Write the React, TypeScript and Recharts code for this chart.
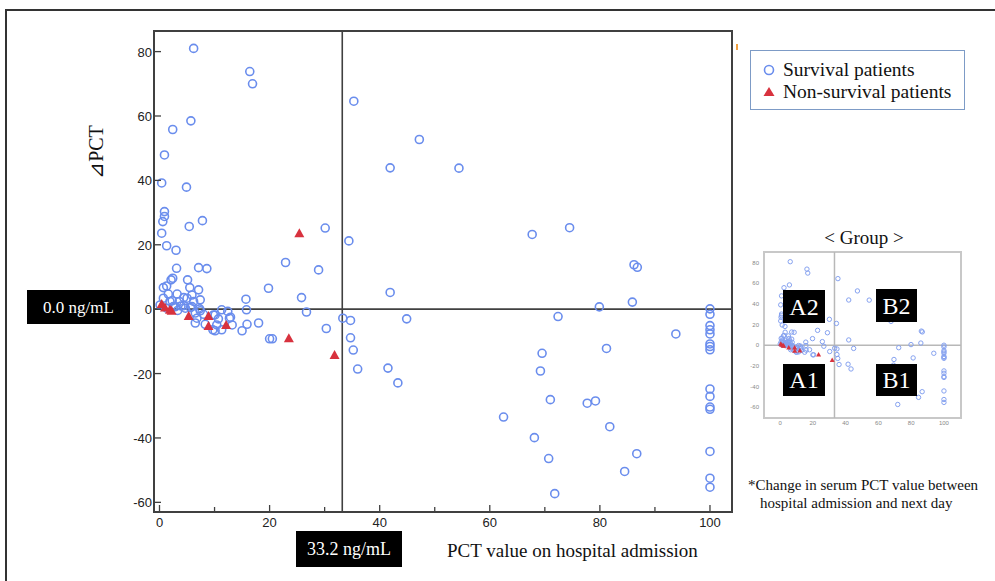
import React from 'react';
import { ScatterChart, Scatter, XAxis, YAxis, ReferenceLine, ReferenceArea } from 'recharts';

// [PCT on admission, delta PCT]
const survivalPoints: [number, number][] = [
  [6.2, 81], [16.4, 73.8], [16.9, 70], [35.3, 64.6], [5.7, 58.5], [2.4, 55.8], [0.9, 47.9],
  [0.4, 39.2], [4.9, 37.9], [0.9, 30.3], [0.9, 28.8], [0.6, 27.2], [0.4, 23.6], [1.3, 19.7],
  [3.0, 18.3], [5.4, 25.7], [7.8, 27.5], [3.1, 12.7], [7.1, 12.9], [8.6, 12.6], [2.4, 9.6],
  [2.1, 9.1], [5.1, 9.1], [0.7, 6.7], [1.3, 7.2], [5.5, 6.7], [7.1, 6.0], [1.6, 4.7],
  [3.2, 4.7], [5.9, 4.4], [4.4, 3.6], [0.7, 3.4], [2.3, 2.6], [3.6, 2.4], [6.2, 2.4],
  [7.4, 2.9], [5.0, 3.4], [0.1, 1.3], [2.9, 0.8], [4.4, 1.1], [5.6, 0.5], [7.3, 0.1],
  [1.3, 0.3], [3.3, -0.4], [6.5, -1.2], [7.4, -0.5], [11.3, -0.2], [12.4, -0.7], [15.8, -0.2],
  [8.0, -1.6], [10.1, -1.8], [6.8, -2.8], [10.7, -3.0], [12.7, -2.8], [6.5, -4.3], [8.3, -4.7],
  [10.4, -4.9], [13.2, -4.9], [15.9, -4.7], [18.0, -4.3], [11.3, -6.4], [10.1, -6.7], [15.0, -6.7],
  [9.7, -6.4], [15.7, 3.1], [2.5, 0.8], [1.9, 2.4], [3.9, 1.0], [4.7, 0.3], [5.9, 0.8],
  [9.8, -1.8], [12.9, -2.5], [19.8, 6.5], [20.0, -9.2], [20.5, -9.2], [22.9, 14.5], [25.8, 3.6],
  [26.7, -0.9], [28.9, 12.2], [30.1, 25.2], [30.3, -6.0], [34.4, 21.2], [33.3, -2.8], [34.7, -3.5],
  [34.7, -8.9], [35.2, -12.7], [36.0, -18.6], [41.9, 5.2], [44.9, -3.0], [41.5, -18.3], [43.3, -22.9],
  [47.2, 52.7], [41.9, 43.9], [54.4, 43.8], [67.7, 23.2], [74.5, 25.3], [86.2, 13.8], [86.8, 13.0],
  [85.9, 2.2], [79.9, 0.7], [72.4, -2.3], [69.5, -13.7], [69.2, -19.2], [71.0, -28.1], [62.5, -33.5],
  [68.1, -39.9], [70.7, -46.4], [71.8, -57.3], [93.8, -7.7], [81.2, -12.2], [77.7, -29.2], [79.2, -28.5],
  [81.8, -36.5], [86.7, -44.9], [84.5, -50.4],
  [100, 0.1], [100, -1.6], [100, -5.1], [100, -6.4], [100, -7.7], [100, -10.8], [100, -11.6],
  [100, -12.6], [100, -24.8], [100, -27.1], [100, -30.4], [100, -31.1], [100, -44.2], [100, -52.5],
  [100, -55.3],
];

const nonSurvivalPoints: [number, number][] = [
  [0.4, 1.6], [1.0, 0.5], [1.9, -0.2], [2.2, -0.5], [5.3, -2.1], [8.9, -2.1], [8.9, -5.2],
  [12.1, -4.9], [25.4, 23.6], [23.5, -9.0], [31.8, -14.2],
];

const xTicks = [0, 10, 20, 30, 40, 50, 60, 70, 80, 90, 100];
const yTicks = [-60, -40, -20, 0, 20, 40, 60, 80];
const insetXTicks = [0, 20, 40, 60, 80, 100];
const pctCutoff = 33.2;
const deltaCutoff = 0;

const survivalData = survivalPoints.map(([x, y]) => ({ x, y }));
const nonSurvivalData = nonSurvivalPoints.map(([x, y]) => ({ x, y }));

const BLUE = '#6a8ded';
const RED = '#d8323e';
const AXIS = '#404040';

const Ring = (p: any) => <circle cx={p.cx} cy={p.cy} r={4} fill="none" stroke={BLUE} strokeWidth={1.6} />;
const Tri = (p: any) => (
  <polygon points={`${p.cx},${p.cy - 5} ${p.cx - 5},${p.cy + 4} ${p.cx + 5},${p.cy + 4}`} fill={RED} />
);
const SmallRing = (p: any) => <circle cx={p.cx} cy={p.cy} r={2.2} fill="none" stroke="#86a2f0" strokeWidth={1} />;
const SmallTri = (p: any) => (
  <polygon points={`${p.cx},${p.cy - 2.5} ${p.cx - 2.5},${p.cy + 2} ${p.cx + 2.5},${p.cy + 2}`} fill={RED} />
);

const XTick = (props: any) => {
  const { x, y, payload } = props;
  const v = payload.value;
  const major = v % 20 === 0;
  const base = y - 4;
  return (
    <g>
      <line x1={x} x2={x} y1={base} y2={base - (major ? 7 : 5)} stroke={AXIS} strokeWidth={1.3} />
      {major && (
        <text x={x} y={y + 11} textAnchor="middle" fontSize={13} fill="#222" fontFamily="Liberation Sans, Arial, sans-serif">
          {v}
        </text>
      )}
    </g>
  );
};

const YTick = (props: any) => {
  const { x, y, payload } = props;
  const axisX = x + 2;
  return (
    <g>
      <line x1={axisX} x2={axisX + 7} y1={y} y2={y} stroke={AXIS} strokeWidth={1.3} />
      <text x={x} y={y + 5} textAnchor="end" fontSize={13} fill="#222" fontFamily="Liberation Sans, Arial, sans-serif">
        {payload.value}
      </text>
    </g>
  );
};

const SmallYTick = (props: any) => {
  const { x, y, payload } = props;
  return (
    <text x={x} y={y + 2} textAnchor="end" fontSize={6} fill="#888" fontFamily="Liberation Sans, Arial, sans-serif">
      {payload.value}
    </text>
  );
};

const SmallXTick = (props: any) => {
  const { x, y, payload } = props;
  return (
    <text x={x} y={y + 5} textAnchor="middle" fontSize={6} fill="#888" fontFamily="Liberation Sans, Arial, sans-serif">
      {payload.value}
    </text>
  );
};

const blackBox = (left: number, top: number, w: number, h: number, fs: number): React.CSSProperties => ({
  position: 'absolute', left, top, width: w, height: h, background: '#000', color: '#fff',
  fontSize: fs, display: 'flex', alignItems: 'center', justifyContent: 'center', lineHeight: 1,
});

export default function App() {
  return (
    <div style={{ position: 'fixed', left: 0, top: 0, width: 995, height: 581, overflow: 'hidden', background: '#fff', fontFamily: '"Liberation Serif", "Times New Roman", serif', color: '#111' }}>
      <div style={{ position: 'absolute', left: 0, top: 0 }}>
        <ScatterChart width={995} height={581} margin={{ top: 31, right: 263, bottom: 39, left: 124 }}>
          <XAxis type="number" dataKey="x" domain={[-1, 104]} allowDataOverflow ticks={xTicks} interval={0}
            axisLine={false} tickLine={false} tickSize={0} tickMargin={4} height={30} tick={XTick} />
          <YAxis type="number" dataKey="y" domain={[-63, 86.4]} allowDataOverflow ticks={yTicks} interval={0}
            axisLine={false} tickLine={false} tickSize={0} tickMargin={2} width={30} tick={YTick} />
          <ReferenceArea x1={-1} x2={104} y1={-63} y2={86.4} fill="none" stroke={AXIS} strokeWidth={2} />
          <ReferenceLine x={pctCutoff} stroke={AXIS} strokeWidth={1.6} />
          <ReferenceLine y={deltaCutoff} stroke={AXIS} strokeWidth={1.6} />
          <Scatter data={survivalData} shape={Ring} isAnimationActive={false} />
          <Scatter data={nonSurvivalData} shape={Tri} isAnimationActive={false} />
        </ScatterChart>
      </div>

      <svg width={995} height={581} style={{ position: 'absolute', left: 0, top: 0, pointerEvents: 'none' }}>
        <path d="M6,581 V10 H995" fill="none" stroke="#333" strokeWidth={2} />
      </svg>

      <div style={{ position: 'absolute', left: 96, top: 152, transform: 'translate(-50%, -50%) rotate(-90deg)', fontSize: 20, whiteSpace: 'nowrap' }}>
        ⊿PCT
      </div>
      <div style={{ ...blackBox(27, 290, 103, 34, 17) }}>0.0 ng/mL</div>
      <div style={{ ...blackBox(296, 531, 106, 36, 18) }}>33.2 ng/mL</div>
      <div style={{ position: 'absolute', left: 447, top: 540, fontSize: 19, whiteSpace: 'nowrap' }}>
        PCT value on hospital admission
      </div>

      <div style={{ position: 'absolute', left: 736, top: 44, width: 2, height: 6, background: '#f0a040' }} />

      <div style={{ position: 'absolute', left: 750, top: 50, width: 213, height: 58, border: '1.5px solid #7d9bc6', fontSize: 19.5, lineHeight: '22px' }}>
        <div style={{ position: 'absolute', left: 11, top: 8, whiteSpace: 'nowrap', display: 'flex', alignItems: 'center' }}>
          <svg width={14} height={14} style={{ marginRight: 7 }}><circle cx={7} cy={7} r={4.5} fill="none" stroke={BLUE} strokeWidth={1.6} /></svg>
          Survival patients
        </div>
        <div style={{ position: 'absolute', left: 11, top: 30, whiteSpace: 'nowrap', display: 'flex', alignItems: 'center' }}>
          <svg width={14} height={14} style={{ marginRight: 7 }}><polygon points="7,2 1.5,11 12.5,11" fill={RED} /></svg>
          Non-survival patients
        </div>
      </div>

      <div style={{ position: 'absolute', left: 864, top: 238, transform: 'translate(-50%, -50%)', fontSize: 19, whiteSpace: 'nowrap' }}>
        &lt; Group &gt;
      </div>
      <div style={{ position: 'absolute', left: 740, top: 240 }}>
        <ScatterChart width={240} height={200} margin={{ top: 12, right: 19, bottom: 8, left: 4 }}>
          <XAxis type="number" dataKey="x" domain={[-9.8, 110.4]} allowDataOverflow ticks={insetXTicks} interval={0}
            axisLine={false} tickLine={false} tickSize={0} tickMargin={2} height={14} tick={SmallXTick} />
          <YAxis type="number" dataKey="y" domain={[-70.4, 90.4]} allowDataOverflow ticks={yTicks} interval={0}
            axisLine={false} tickLine={false} tickSize={0} tickMargin={5} width={20} tick={SmallYTick} />
          <ReferenceArea x1={-9.8} x2={110.4} y1={-70.4} y2={90.4} fill="none" stroke="#c8c8c8" strokeWidth={2} />
          <ReferenceLine x={pctCutoff} stroke="#b8b8b8" strokeWidth={1.5} />
          <ReferenceLine y={deltaCutoff} stroke="#b8b8b8" strokeWidth={1.5} />
          <Scatter data={survivalData} shape={SmallRing} isAnimationActive={false} />
          <Scatter data={nonSurvivalData} shape={SmallTri} isAnimationActive={false} />
        </ScatterChart>
      </div>
      <div style={{ ...blackBox(783, 290, 42, 33, 24) }}>A2</div>
      <div style={{ ...blackBox(876, 289, 41, 33, 24) }}>B2</div>
      <div style={{ ...blackBox(783, 364, 42, 32, 24) }}>A1</div>
      <div style={{ ...blackBox(876, 364, 41, 32, 24) }}>B1</div>

      <div style={{ position: 'absolute', left: 748, top: 476, fontSize: 15, lineHeight: '18px', whiteSpace: 'nowrap' }}>
        *Change in serum PCT value between
        <br />
        <span style={{ paddingLeft: 12 }}>hospital admission and next day</span>
      </div>
    </div>
  );
}
